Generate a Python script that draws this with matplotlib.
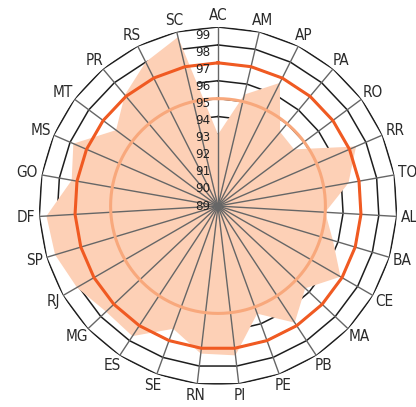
import numpy as np
import matplotlib
matplotlib.use("Agg")
from matplotlib import pyplot as plt
from matplotlib import font_manager

STATES = ["AC", "AM", "AP", "PA", "RO", "RR", "TO", "AL", "BA", "CE", "MA", "PB", "PE", "PI",
          "RN", "SE", "ES", "MG", "RJ", "SP", "DF", "GO", "MS", "MT", "PR", "RS", "SC"]
VALUES = [93.0, 95.4, 96.7, 94.4, 94.3, 97.4, 96.4, 95.0, 95.7, 96.9, 95.7, 96.8, 95.4, 97.4,
          97.3, 96.3, 97.7, 97.6, 98.1, 98.5, 98.6, 97.3, 97.8, 96.1, 97.1, 98.0, 98.7]
R_MIN = 89
R_MAX = 99
RING_TICKS = list(range(89, 100))
REF_HIGH = 97
REF_LOW = 95

names = {f.name for f in font_manager.fontManager.ttflist}
if "Liberation Sans Narrow" in names:
    FONT = ["Liberation Sans Narrow", "DejaVu Sans"]
    STRETCH = "normal"
else:
    FONT = ["DejaVu Sans"]
    STRETCH = "condensed"


def closed(a):
    return np.concatenate([a, a[:1]])


def main():
    fig = plt.figure(figsize=(4.16, 4.07), dpi=100)
    ax = fig.add_axes([0.09375, 0.054, 0.8606, 0.8796], projection="polar")
    ax.set_theta_zero_location("N")
    ax.set_theta_direction(-1)
    ax.set_ylim(R_MIN, R_MAX)
    ax.grid(False)
    ax.set_xticks([])
    ax.set_yticks([])
    ax.spines["polar"].set_visible(False)

    n = len(STATES)
    theta = np.arange(n) * 2 * np.pi / n
    tc = closed(theta)

    # polygon grid rings, under the fill
    for v in RING_TICKS[1:]:
        ax.plot(tc, [v] * (n + 1), color="#1e1e1e", lw=1.1, zorder=1)

    ax.fill(tc, closed(np.array(VALUES)), color="#fdd0b6", lw=0, zorder=2)

    for t in theta:
        ax.plot([t, t], [R_MIN, R_MAX], color="#666666", lw=1.0, zorder=3)

    ax.plot(tc, [REF_HIGH] * (n + 1), color="#f05a22", lw=2.2, zorder=4)
    circ = np.linspace(0, 2 * np.pi, 361)
    ax.plot(circ, [REF_LOW] * len(circ), color="#f8a87c", lw=2.2, zorder=4)

    for v in RING_TICKS:
        ax.annotate(str(v), xy=(0, R_MIN + 0.955 * (v - R_MIN)), xytext=(-8, 0),
                    textcoords="offset pixels", ha="right", va="center",
                    fontsize=9.5, color="#222222", family=FONT, fontstretch=STRETCH,
                    zorder=5, annotation_clip=False)

    # state labels, pushed outward so the nearest edge sits near the rim
    fig.canvas.draw()
    renderer = fig.canvas.get_renderer()
    pad = 4
    for t, name in zip(theta, STATES):
        txt = ax.annotate(name, xy=(t, R_MAX), xytext=(0, 0), textcoords="offset pixels",
                          ha="center", va="center", fontsize=11, color="#2a2a2a",
                          family=FONT, fontstretch=STRETCH, annotation_clip=False)
        bb = txt.get_window_extent(renderer)
        dx = np.sin(t) * (pad + bb.width / 2)
        dy = np.cos(t) * (pad + bb.height / 2)
        txt.set_position((dx, dy))

    fig.savefig("out.png", dpi=100)


if __name__ == "__main__":
    main()
